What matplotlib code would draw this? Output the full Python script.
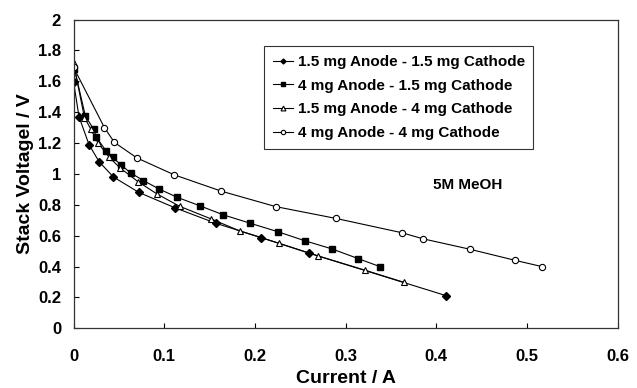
import matplotlib
matplotlib.use("Agg")
import matplotlib.pyplot as plt

plt.rcParams['font.family'] = ['Liberation Sans', 'DejaVu Sans']
plt.rcParams['font.weight'] = 'bold'

labels = ["1.5 mg Anode - 1.5 mg Cathode", "4 mg Anode - 1.5 mg Cathode",
          "1.5 mg Anode - 4 mg Cathode", "4 mg Anode - 4 mg Cathode"]

x_a15c15 = [0.000, 0.006, 0.017, 0.028, 0.044, 0.072, 0.112, 0.157, 0.207, 0.260, 0.411]
y_a15c15 = [1.595, 1.37, 1.19, 1.08, 0.98, 0.88, 0.78, 0.68, 0.587, 0.486, 0.211]

x_a4c15 = [0.001, 0.013, 0.022, 0.025, 0.036, 0.043, 0.052, 0.063, 0.077, 0.094, 0.114,
           0.139, 0.165, 0.195, 0.225, 0.255, 0.285, 0.314, 0.338]
y_a4c15 = [1.68, 1.375, 1.29, 1.24, 1.146, 1.107, 1.06, 1.006, 0.957, 0.903, 0.849,
           0.794, 0.735, 0.68, 0.626, 0.567, 0.514, 0.451, 0.399]

x_a15c4 = [0.000, 0.012, 0.019, 0.027, 0.039, 0.051, 0.071, 0.092, 0.117, 0.151, 0.1835,
           0.227, 0.270, 0.321, 0.364]
y_a15c4 = [1.716, 1.365, 1.29, 1.20, 1.11, 1.04, 0.95, 0.87, 0.79, 0.71, 0.63,
           0.55, 0.468, 0.377, 0.298]

x_a4c4 = [0.000, 0.034, 0.045, 0.070, 0.111, 0.163, 0.223, 0.289, 0.362, 0.385, 0.437,
          0.487, 0.517]
y_a4c4 = [1.69, 1.30, 1.204, 1.103, 0.994, 0.888, 0.788, 0.712, 0.619, 0.58, 0.512,
          0.44, 0.399]

x_ticks = [0, 0.1, 0.2, 0.3, 0.4, 0.5, 0.6]
x_ticklabels = ["0", "0.1", "0.2", "0.3", "0.4", "0.5", "0.6"]
y_ticks = [0, 0.2, 0.4, 0.6, 0.8, 1.0, 1.2, 1.4, 1.6, 1.8, 2.0]
y_ticklabels = ["0", "0.2", "0.4", "0.6", "0.8", "1", "1.2", "1.4", "1.6", "1.8", "2"]

fig = plt.figure(figsize=(6.37, 3.88), dpi=100)
ax = fig.add_axes([0.1155, 0.1539, 0.8542, 0.7958])

lw = 0.8
ax.plot(x_a15c15, y_a15c15, color='black', lw=lw, marker='D', ms=3.6,
        mfc='black', mec='black', label=labels[0])
ax.plot(x_a4c15, y_a4c15, color='black', lw=lw, marker='s', ms=4.2,
        mfc='black', mec='black', label=labels[1])
ax.plot(x_a15c4, y_a15c4, color='black', lw=lw, marker='^', ms=5,
        mfc='white', mec='black', mew=0.8, label=labels[2])
ax.plot(x_a4c4, y_a4c4, color='black', lw=lw, marker='o', ms=4.5,
        mfc='white', mec='black', mew=0.8, label=labels[3])

ax.set_xlim(0, 0.6)
ax.set_ylim(0, 2)
ax.set_xticks(x_ticks)
ax.set_xticklabels(x_ticklabels)
ax.set_yticks(y_ticks)
ax.set_yticklabels(y_ticklabels)
ax.tick_params(axis='both', labelsize=12, direction='in', length=3.6, width=0.8)
ax.tick_params(axis='x', pad=15)
ax.tick_params(axis='y', pad=9)
for s in ax.spines.values():
    s.set_linewidth(0.9)
    s.set_color('#333333')

ax.set_xlabel("Current / A", fontsize=14, fontweight='bold', labelpad=4)
ax.set_ylabel("Stack Voltagel / V", fontsize=14, fontweight='bold', labelpad=3)

leg = ax.legend(loc='upper left', bbox_to_anchor=(0.3505, 0.9127), fontsize=11,
                frameon=True, fancybox=False, edgecolor='black', handlelength=1.3,
                handletextpad=0.33, borderpad=0.55, borderaxespad=0, labelspacing=0.64,
                markerscale=0.7)
leg.get_frame().set_linewidth(0.8)

ax.text(0.396, 0.927, "5M MeOH", fontsize=11, fontweight='bold', va='center', ha='left')

fig.savefig("out.png", dpi=100)
